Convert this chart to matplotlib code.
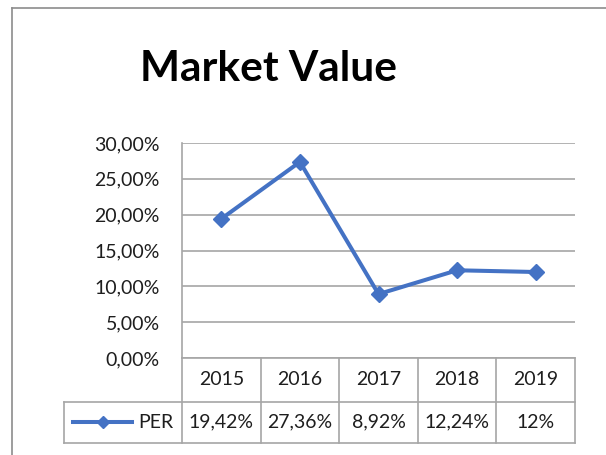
import matplotlib
matplotlib.use("Agg")
import matplotlib.pyplot as plt
from matplotlib.lines import Line2D
from matplotlib.ticker import FuncFormatter

years = ['2015', '2016', '2017', '2018', '2019']
per = [19.42, 27.36, 8.92, 12.24, 12.0]
per_labels = ['19,42%', '27,36%', '8,92%', '12,24%', '12%']
series_name = 'PER'
title = 'Market Value'

blue = '#4472C4'
grid_gray = '#A6A6A6'
text_col = '#1E1E1E'

plt.rcParams['font.family'] = ['Lato', 'DejaVu Sans']

W, H = 606, 455
fig = plt.figure(figsize=(W / 100, H / 100), dpi=100)

# plot area in pixels (left, top, right, bottom)
L, T, R, B = 182, 143, 575, 358
ax = fig.add_axes([L / W, 1 - B / H, (R - L) / W, (B - T) / H])

x = list(range(len(years)))
ax.plot(x, per, color=blue, lw=2.9, marker='D', ms=8.5, zorder=3)

ax.set_xlim(-0.5, len(years) - 0.5)
ax.set_ylim(0, 30)
ax.set_yticks(range(0, 31, 5))
ax.yaxis.set_major_formatter(FuncFormatter(lambda v, p: f'{v:.2f}%'.replace('.', ',')))
ax.tick_params(axis='y', length=0, pad=16, labelsize=14, labelcolor=text_col)
ax.tick_params(axis='x', length=0, labelbottom=False)
ax.yaxis.grid(True, color=grid_gray, lw=1.2)
ax.set_axisbelow(True)
for s in ['top', 'right', 'bottom']:
    ax.spines[s].set_visible(False)
ax.spines['left'].set_color(grid_gray)
ax.spines['left'].set_linewidth(1.2)

# data table under the axis (x in data coords, y in axes coords)
tr = ax.get_xaxis_transform()
px = 1.0 / (B - T)
y_hdr = -(401.7 - B) * px
y_bot = -(443 - B) * px
x_leg = -2.0
lc = dict(color=grid_gray, lw=1.2, clip_on=False, transform=tr)

ax.add_line(Line2D([-0.5, -0.5], [0, y_bot], **lc))
for i in range(len(years)):
    ax.add_line(Line2D([i + 0.5, i + 0.5], [0, y_bot], **lc))
ax.add_line(Line2D([-0.5, len(years) - 0.5], [0, 0], **lc))
ax.add_line(Line2D([x_leg, len(years) - 0.5], [y_hdr, y_hdr], **lc))
ax.add_line(Line2D([x_leg, len(years) - 0.5], [y_bot, y_bot], **lc))
ax.add_line(Line2D([x_leg, x_leg], [y_hdr, y_bot], **lc))

y_mid1 = y_hdr / 2
y_mid2 = (y_hdr + y_bot) / 2
for i, (yr, lab) in enumerate(zip(years, per_labels)):
    ax.text(i, y_mid1, yr, transform=tr, ha='center', va='center', fontsize=14, color=text_col)
    ax.text(i, y_mid2, lab, transform=tr, ha='center', va='center', fontsize=14, color=text_col)

# legend key in the table
ax.add_line(Line2D([-1.89, -1.13], [y_mid2, y_mid2], color=blue, lw=2.9,
                   clip_on=False, transform=tr))
ax.add_line(Line2D([-1.51], [y_mid2], color=blue, marker='D', ms=6,
                   clip_on=False, transform=tr))
ax.text(-1.06, y_mid2, series_name, transform=tr, ha='left', va='center',
        fontsize=14, color=text_col)

fig.text(268 / W, 1 - 69 / H, title, ha='center', va='center', fontsize=30.5,
         fontweight='bold', color='black')

# chart border
fig.add_artist(Line2D([12 / W, 1], [1 - 8 / H, 1 - 8 / H], color='#8C8C8C', lw=1.2,
                      transform=fig.transFigure))
fig.add_artist(Line2D([12 / W, 12 / W], [0, 1 - 8 / H], color='#8C8C8C', lw=1.2,
                      transform=fig.transFigure))

fig.savefig('out.png', dpi=100, facecolor='white')
